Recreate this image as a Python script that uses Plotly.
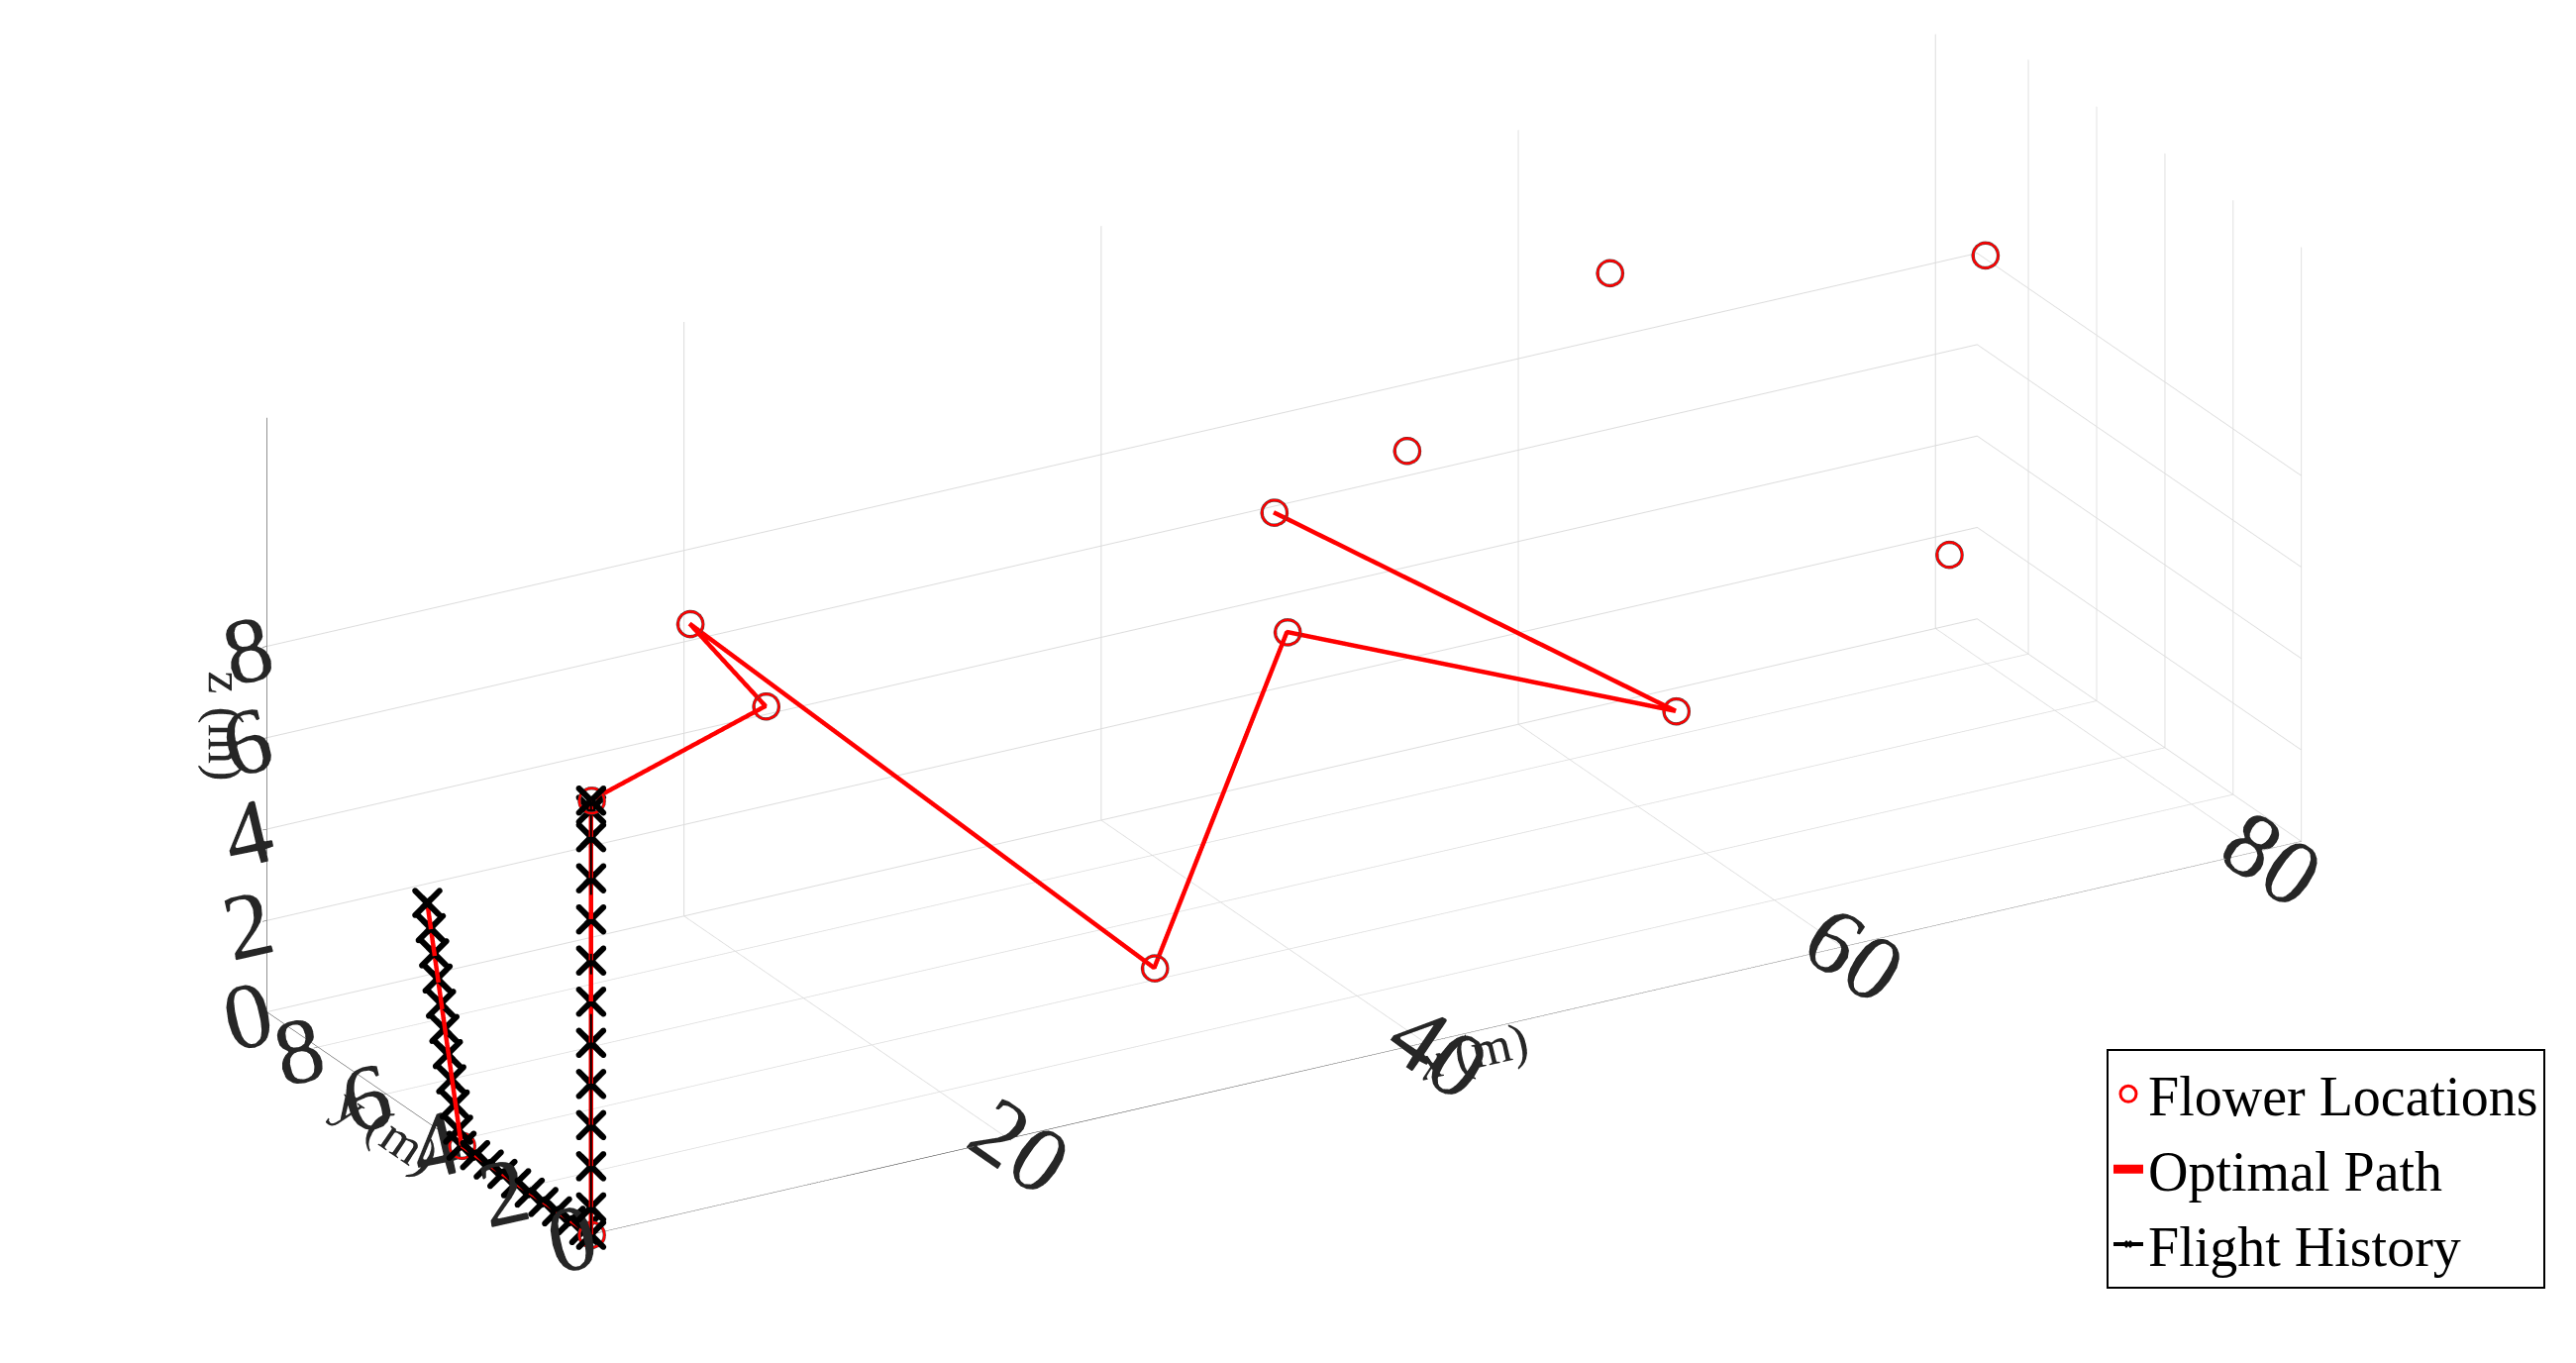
import plotly.graph_objects as go

# Flower locations (x, y, z) in metres
flower_x = [0, 0, 0, 10, 8, 27, 35, 52, 36, 44, 57, 75, 70]
flower_y = [3.8, 0, 0, 1, 2, 0, 1, 0, 2, 3, 5, 5, 3]
flower_z = [0, 0, 9.5, 10, 11.5, 3, 9, 6, 11, 11, 12.5, 11, 6]

# Optimal path
path_x = [0, 0, 0, 0, 10, 8, 27, 35, 52, 36]
path_y = [4.8, 3.8, 0, 0, 1, 2, 0, 1, 0, 2]
path_z = [4.8, 0, 0, 9.5, 10, 11.5, 3, 9, 6, 11]

# Flight history
hist_x = [0]*33
hist_y = [4.8, 4.7, 4.6, 4.5, 4.4, 4.3, 4.2, 4.1, 4.0, 3.9, 3.8,
          3.4, 3.0, 2.6, 2.2, 1.8, 1.4, 1.0, 0.6, 0.2, 0,
          0, 0, 0, 0, 0, 0, 0, 0, 0, 0, 0, 0]
hist_z = [4.8, 4.3, 3.8, 3.3, 2.8, 2.3, 1.8, 1.3, 0.8, 0.3, 0,
          0, 0, 0, 0, 0, 0, 0, 0, 0, 0,
          0.6, 1.5, 2.4, 3.3, 4.2, 5.1, 6.0, 6.9, 7.8, 8.7, 9.3, 9.5]

font = dict(family="Liberation Serif", size=34, color="#262626")
tfont = dict(family="Liberation Serif", size=52, color="#262626")

fig = go.Figure()
fig.add_trace(go.Scatter3d(x=flower_x, y=flower_y, z=flower_z, mode="markers",
                           name="Flower Locations",
                           marker=dict(symbol="circle-open", size=16, color="red", line=dict(width=3))))
fig.add_trace(go.Scatter3d(x=path_x, y=path_y, z=path_z, mode="lines",
                           name="Optimal Path", line=dict(color="red", width=9)))
fig.add_trace(go.Scatter3d(x=hist_x, y=hist_y, z=hist_z, mode="lines+markers",
                           name="Flight History", line=dict(color="black", width=4),
                           marker=dict(symbol="x", size=7, color="black")))

ax = dict(showbackground=False, gridcolor="#dcdcdc", showline=True, linecolor="#262626",
          ticks="outside", tickfont=font, zeroline=False)
fig.update_layout(
    width=2601, height=1376, paper_bgcolor="white", font=font,
    margin=dict(l=0, r=0, t=0, b=0),
    scene=dict(
        xaxis=dict(ax, title=dict(text="<i>x</i> (m)", font=tfont), range=[0, 82], tickvals=[20, 40, 60, 80]),
        yaxis=dict(ax, title=dict(text="y (m)", font=tfont), range=[0, 9.5], tickvals=[0, 2, 4, 6, 8]),
        zaxis=dict(ax, title=dict(text="z (m)", font=tfont), range=[0, 13], tickvals=[0, 2, 4, 6, 8]),
        aspectmode="manual", aspectratio=dict(x=2.9, y=0.95, z=0.95),
        camera=dict(eye=dict(x=-1.6, y=-2.8, z=1.3), projection=dict(type="orthographic"),
                    center=dict(x=0.02, y=0, z=-0.1)),
        domain=dict(x=[0, 1], y=[0, 1]),
    ),
    legend=dict(x=0.985, y=0.06, xanchor="right", yanchor="bottom", bordercolor="black",
                borderwidth=2, bgcolor="white", font=dict(family="Liberation Serif", size=56, color="black")),
)
fig.write_html("out.html")
